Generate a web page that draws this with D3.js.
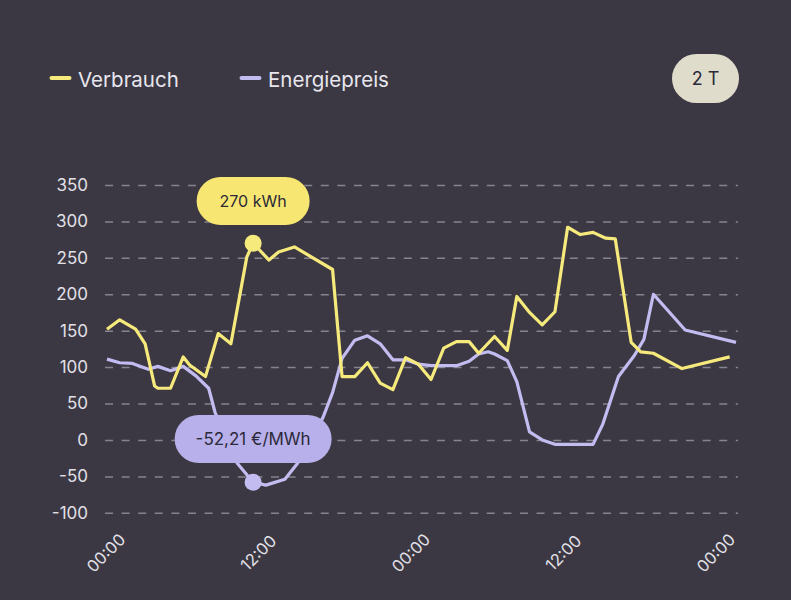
<!DOCTYPE html>
<html>
<head>
<meta charset="utf-8">
<script src="https://cdn.jsdelivr.net/npm/d3@7"></script>
<style>
  html, body { margin: 0; padding: 0; background: #3b3843; }
  svg { display: block; font-family: Inter, "Noto Sans", sans-serif; }
</style>
</head>
<body>
<div id="chart"></div>
<script>
// hours since start of first day
const verbrauchStunde = [0, 1, 2.25, 3, 3.75, 4, 5, 6, 6.5, 7.75, 8.75, 9.75, 11, 11.5, 12.75, 13.5, 14.75, 17.75,
  18.5, 19.5, 20.5, 21.5, 22.5, 23.5, 24.5, 25.5, 26.5, 27.5, 28.5, 29.25, 30.5, 31.5, 32.25, 33.25, 34.25, 35.25,
  36.25, 37.25, 38.25, 39.25, 40, 41.25, 42, 43, 45.25, 49]
const verbrauchWert = [152, 165, 152, 132, 74, 71, 71, 114, 103, 87, 146, 132, 251, 270, 247, 258, 265, 234,
  87, 87, 106, 78, 69, 113, 104, 83, 126, 135, 135, 119, 142, 123, 197, 175, 158, 176,
  292, 282, 285, 277, 276, 134, 121, 119, 98, 114]

const preisStunde = [0, 1, 2, 3.25, 4, 5, 6, 7, 8, 8.5, 10.25, 11.5, 12.5, 14, 15, 17, 17.75, 18.5, 19.5, 20.5,
  21.5, 22.5, 23.5, 24.5, 25.5, 27.5, 28.5, 29.25, 30, 30.5, 31.5, 32.25, 33.25, 34.25, 35.25, 38.25, 39,
  40.25, 41.5, 42.25, 43, 45.5, 49.5]
const preisWert = [111, 106, 105, 97, 101, 95, 101, 88, 71, 38, -32, -58, -62, -54, -32, 31, 65, 112, 137, 143,
  132, 110, 110, 104, 102, 102, 108, 118, 121, 118, 109, 80, 11, 0, -6, -6, 21,
  87, 116, 138, 200, 151, 134]

const yTicks = [-100, -50, 0, 50, 100, 150, 200, 250, 300, 350]
const xTickStunden = [0, 12, 24, 36, 48]
const legende = ["Verbrauch", "Energiepreis"]
const markStunde = 11.5
const markTexte = ["270 kWh", "-52,21 €/MWh"]
const zeitraum = "2 T"

const width = 791, height = 600
const gelb = "#f6ea7c", lila = "#c3bcf1"

const start = Date.UTC(2024, 4, 13)
const toDate = h => new Date(start + h * 3600e3)

const verbrauch = verbrauchStunde.map((h, i) => ({t: toDate(h), v: verbrauchWert[i]}))
const preis = preisStunde.map((h, i) => ({t: toDate(h), v: preisWert[i]}))

const svg = d3.select("#chart").append("svg")
  .attr("width", width).attr("height", height)

svg.append("rect").attr("width", width).attr("height", height).attr("fill", "#3b3843")

const x = d3.scaleUtc()
  .domain([toDate(0), toDate(49.5)])
  .range([107, 736])

const y = d3.scaleLinear()
  .domain([-100, 350])
  .range([512.8, 185])

// grid + y labels
const yAxis = svg.append("g")
  .attr("transform", "translate(105,0)")
  .call(d3.axisLeft(y).tickValues(yTicks).tickFormat(d => String(d)).tickSize(-633).tickPadding(17))
yAxis.select(".domain").remove()
yAxis.selectAll(".tick line")
  .attr("stroke", "#85838e").attr("stroke-width", 1.5).attr("stroke-dasharray", "8,8.6")
yAxis.selectAll(".tick text")
  .attr("fill", "#e2e0e8").attr("font-size", 17).attr("font-family", "Inter, sans-serif")

// x labels, rotated
const xAxis = svg.append("g")
  .call(d3.axisBottom(x).tickValues(xTickStunden.map(toDate)).tickFormat(d3.utcFormat("%H:%M")).tickSize(0))
xAxis.select(".domain").remove()
xAxis.selectAll(".tick")
  .attr("transform", d => "translate(" + (x(d) - 1) + ",553)")
xAxis.selectAll(".tick text")
  .attr("y", 0).attr("dy", "0.35em")
  .attr("transform", "rotate(-45)")
  .attr("text-anchor", "middle")
  .attr("fill", "#e2e0e8").attr("font-size", 16.5).attr("font-family", "Inter, sans-serif")

const line = d3.line().x(d => x(d.t)).y(d => y(d.v))

svg.append("path").datum(preis)
  .attr("fill", "none").attr("stroke", lila).attr("stroke-width", 3.2)
  .attr("stroke-linejoin", "round").attr("d", line)

svg.append("path").datum(verbrauch)
  .attr("fill", "none").attr("stroke", gelb).attr("stroke-width", 3.2)
  .attr("stroke-linejoin", "round").attr("d", line)

// markers
const mv = verbrauch.find(d => +d.t === +toDate(markStunde))
const mp = preis.find(d => +d.t === +toDate(markStunde))

svg.append("circle").attr("cx", x(mv.t)).attr("cy", y(mv.v)).attr("r", 8.5).attr("fill", gelb)
svg.append("circle").attr("cx", x(mp.t)).attr("cy", y(mp.v)).attr("r", 8.5).attr("fill", lila)

function pill(cx, cy, w, fill, txt, size) {
  svg.append("rect")
    .attr("x", cx - w / 2).attr("y", cy - 24).attr("width", w).attr("height", 48)
    .attr("rx", 24).attr("fill", fill)
  svg.append("text")
    .attr("x", cx).attr("y", cy).attr("dy", "0.35em")
    .attr("text-anchor", "middle").attr("font-size", size).attr("fill", "#2c2938")
    .text(txt)
}
pill(x(mv.t), 201, 113, "#f7e772", markTexte[0], 16)
pill(x(mp.t), 439, 157, "#b8b0eb", markTexte[1], 17)

// legend
const leg = svg.append("g")
const legX = [50, 240]
const legC = [gelb, lila]
legende.forEach((name, i) => {
  leg.append("line")
    .attr("x1", legX[i] + 1.5).attr("x2", legX[i] + 19.5).attr("y1", 78).attr("y2", 78)
    .attr("stroke", legC[i]).attr("stroke-width", 4).attr("stroke-linecap", "round")
  leg.append("text")
    .attr("x", legX[i] + 28).attr("y", 86.5)
    .attr("font-size", 20.5).attr("fill", "#e8e6ee")
    .text(name)
})

// range badge
svg.append("rect").attr("x", 672).attr("y", 54).attr("width", 67).attr("height", 49)
  .attr("rx", 24.5).attr("fill", "#dfdccb")
svg.append("text").attr("x", 705.5).attr("y", 78.5).attr("dy", "0.35em")
  .attr("text-anchor", "middle").attr("font-size", 18).attr("fill", "#2c2938")
  .text(zeitraum)
</script>
</body>
</html>
